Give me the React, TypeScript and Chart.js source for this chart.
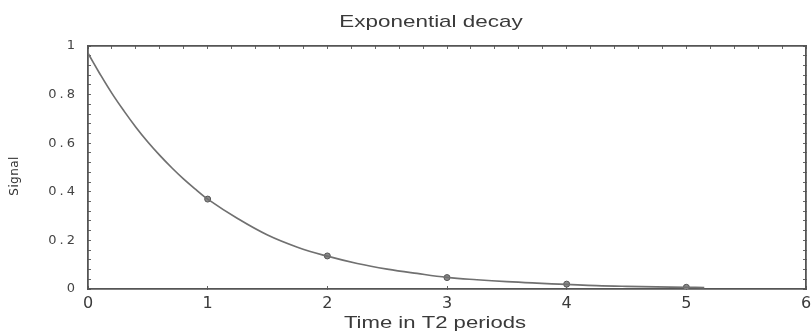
import { useEffect, useRef } from 'react';
import { Chart, registerables } from 'chart.js';

Chart.register(...registerables);

const titleText = 'Exponential decay';
const xAxisTitle = 'Time in T2 periods';
const yAxisTitle = 'Signal';
const xTickLabels = ['0', '1', '2', '3', '4', '5', '6'];
const yTickLabels = ['0', '0.2', '0.4', '0.6', '0.8', '1'];

const curveTime = [0, 0.1, 0.2, 0.3, 0.4, 0.5, 0.6, 0.7, 0.8, 0.9, 1, 1.25, 1.5, 1.75, 2, 2.25, 2.5, 2.75, 3, 3.25, 3.5, 3.75, 4, 4.25, 4.5, 4.75, 5, 5.15];
const curveSignal = [0.97, 0.885, 0.805, 0.733, 0.666, 0.605, 0.55, 0.499, 0.452, 0.41, 0.37, 0.29, 0.222, 0.172, 0.135, 0.105, 0.082, 0.064, 0.048, 0.038, 0.03, 0.024, 0.019, 0.014, 0.011, 0.009, 0.007, 0.006];
const sampleTime = [1, 2, 3, 4, 5];
const sampleSignal = [0.37, 0.136, 0.047, 0.02, 0.007];

const TEXT = '#3a3a3a';
const FRAME = '#555555';
const TICK = '#666666';
const SANS = '"Liberation Sans", Arial, sans-serif';
const DEJAVU = '"DejaVu Sans", sans-serif';

function stretchedText(ctx: CanvasRenderingContext2D, text: string, x: number, y: number, sx: number, rotate = 0) {
  ctx.save();
  ctx.translate(x, y);
  if (rotate) ctx.rotate(rotate);
  ctx.scale(sx, 1);
  ctx.fillText(text, 0, 0);
  ctx.restore();
}

const textPlugin = {
  id: 'textPlugin',
  beforeDraw(chart: any) {
    chart.ctx.letterSpacing = '0px';
  },
  afterDatasetsDraw(chart: any) {
    chart.ctx.letterSpacing = '3px';
  },
  afterDraw(chart: any) {
    const ctx = chart.ctx as CanvasRenderingContext2D;
    (ctx as any).letterSpacing = '0px';
    ctx.save();
    ctx.fillStyle = TEXT;
    ctx.textAlign = 'center';
    ctx.textBaseline = 'middle';
    ctx.font = `17px ${SANS}`;
    stretchedText(ctx, titleText, 431, 22, 1.32);
    stretchedText(ctx, xAxisTitle, 435, 323, 1.3);
    ctx.font = `12px ${DEJAVU}`;
    ctx.fillStyle = '#333333';
    (ctx as any).letterSpacing = '0.4px';
    stretchedText(ctx, yAxisTitle, 15, 176, 1, -Math.PI / 2);
    ctx.restore();
  },
};

export default function App() {
  const ref = useRef<HTMLCanvasElement | null>(null);

  useEffect(() => {
    if (!ref.current) return;
    const curve = curveTime.map((t, i) => ({ x: t, y: curveSignal[i] }));
    const samples = sampleTime.map((t, i) => ({ x: t, y: sampleSignal[i] }));

    const xLabel = (v: any) => {
      const n = Number(v);
      const r = Math.round(n);
      return Math.abs(n - r) < 1e-6 ? xTickLabels[r] : '';
    };
    const yLabel = (v: any) => {
      const n = Number(v) * 5;
      const r = Math.round(n);
      return Math.abs(n - r) < 1e-6 ? yTickLabels[r] : '';
    };

    const chart = new Chart(ref.current, {
      type: 'scatter',
      data: {
        datasets: [
          {
            data: curve,
            showLine: true,
            borderColor: '#707070',
            borderWidth: 1.7,
            pointRadius: 0,
            tension: 0.4,
          } as any,
          {
            data: samples,
            showLine: false,
            pointRadius: 3,
            pointBackgroundColor: '#8a8a8a',
            pointBorderColor: '#555555',
            pointBorderWidth: 1,
          } as any,
        ],
      },
      options: {
        animation: false,
        responsive: false,
        events: [],
        layout: { padding: { top: 46, right: 3, bottom: 0, left: 0 } },
        plugins: {
          legend: { display: false },
          tooltip: { enabled: false },
          title: { display: false },
        },
        scales: {
          x: {
            type: 'linear',
            position: 'bottom',
            min: 0,
            max: 6,
            afterFit: (s: any) => {
              s.height = 45;
              s.paddingLeft = 0;
              s.paddingRight = 0;
            },
            ticks: {
              stepSize: 1,
              autoSkip: false,
              maxRotation: 0,
              minRotation: 0,
              padding: 8,
              color: TEXT,
              font: { family: DEJAVU, size: 16 },
              callback: xLabel,
            },
            grid: { drawOnChartArea: false, drawTicks: true, tickLength: -3, color: TICK, lineWidth: 1 },
            border: { display: true, color: FRAME, width: 1.8 },
          },
          x2: {
            type: 'linear',
            position: 'top',
            min: 0,
            max: 6,
            afterFit: (s: any) => {
              s.height = 0;
              s.paddingLeft = 0;
              s.paddingRight = 0;
            },
            ticks: { display: false, stepSize: 0.2, autoSkip: false },
            grid: { drawOnChartArea: false, drawTicks: true, tickLength: -3, color: TICK, lineWidth: 1 },
            border: { display: true, color: FRAME, width: 1.8 },
          },
          y: {
            type: 'linear',
            position: 'left',
            min: 0,
            max: 1,
            afterFit: (s: any) => {
              s.width = 88;
              s.paddingTop = 0;
              s.paddingBottom = 0;
            },
            ticks: {
              stepSize: 0.04,
              autoSkip: false,
              padding: 13,
              z: 1,
              color: '#444444',
              font: { family: DEJAVU, size: 13 },
              callback: yLabel,
            },
            grid: { drawOnChartArea: false, drawTicks: true, tickLength: -3, color: TICK, lineWidth: 1 },
            border: { display: true, color: FRAME, width: 1.8 },
          },
          y2: {
            type: 'linear',
            position: 'right',
            min: 0,
            max: 1,
            afterFit: (s: any) => {
              s.width = 0;
              s.paddingTop = 0;
              s.paddingBottom = 0;
            },
            ticks: { display: false, stepSize: 0.04, autoSkip: false },
            grid: { drawOnChartArea: false, drawTicks: true, tickLength: -3, color: TICK, lineWidth: 1 },
            border: { display: true, color: FRAME, width: 1.8 },
          },
        },
      } as any,
      plugins: [textPlugin],
    });
    return () => chart.destroy();
  }, []);

  return (
    <div style={{ position: 'absolute', left: 0, top: 0, width: 811, height: 334, background: '#ffffff' }}>
      <canvas ref={ref} width={811} height={334} style={{ display: 'block', width: 811, height: 334 }} />
    </div>
  );
}
